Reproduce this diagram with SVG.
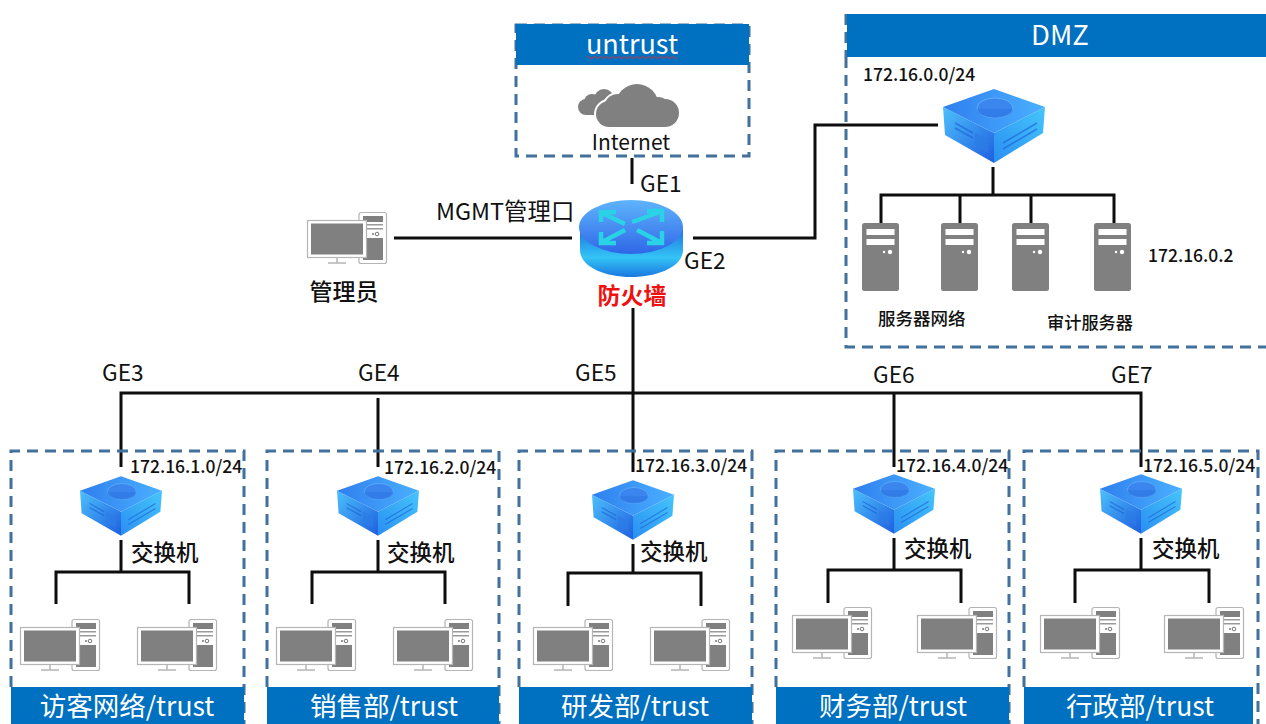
<svg xmlns="http://www.w3.org/2000/svg" width="1266" height="724" viewBox="0 0 1266 724">
<style>
text{font-family:"Noto Sans CJK SC","Noto Sans",sans-serif;fill:#111}
.w{fill:#fff;text-anchor:middle}
.ip{font-size:17.500px;font-weight:500}
.ge{font-size:22.700px}
.sw{font-size:22.500px;font-weight:500}
.zt{font-size:26.500px}
.bar{fill:#0070c0}
.zone{fill:none;stroke:#41719c;stroke-width:3;stroke-dasharray:11 7}
.ln{fill:none;stroke:#0d0d0d;stroke-width:3}
.arw{fill:none;stroke:#2ad2e6;stroke-width:4.500}
</style>
<defs>
<linearGradient id="swTop" x1="0" y1="0" x2="1" y2="0"><stop offset="0" stop-color="#2f7fee"/><stop offset="1" stop-color="#4ab0ff"/></linearGradient>
<linearGradient id="swL" x1="0" y1="0" x2="1" y2="1"><stop offset="0" stop-color="#4cc0fb"/><stop offset="1" stop-color="#1f5fe0"/></linearGradient>
<linearGradient id="swR" x1="0" y1="1" x2="1" y2="0"><stop offset="0" stop-color="#2a8ef2"/><stop offset="1" stop-color="#45c6fb"/></linearGradient>
<linearGradient id="fwTop" x1="0" y1="0" x2="0" y2="1"><stop offset="0" stop-color="#5fb4fb"/><stop offset="1" stop-color="#2f66e8"/></linearGradient>
<linearGradient id="fwBody" x1="0" y1="0" x2="0" y2="1"><stop offset="0" stop-color="#1b70df"/><stop offset=".6" stop-color="#34c4f6"/><stop offset="1" stop-color="#1a78e0"/></linearGradient>
<g id="cloudBig">
<circle cx="609" cy="114" r="13"/><circle cx="618" cy="108" r="14"/><circle cx="637" cy="105.500" r="21.500"/><circle cx="665" cy="113" r="14"/><circle cx="658" cy="110" r="13"/><rect x="609" y="108" width="56" height="19"/>
</g>
<symbol id="pc" viewBox="0 0 80 52" width="80" height="52" overflow="visible">
<rect x="52" y="0.500" width="27.500" height="51" rx="2" fill="#fff" stroke="#b5b5b5" stroke-width="1.200"/>
<rect x="56" y="4" width="20" height="6" fill="#808080"/>
<rect x="56" y="12" width="20" height="1.500" fill="#999"/><rect x="56" y="16" width="20" height="1.500" fill="#999"/>
<circle cx="70" cy="22" r="1.800" fill="none" stroke="#777"/><circle cx="66" cy="22" r="1" fill="#777"/>
<rect x="56" y="26" width="20" height="22" fill="#808080"/>
<rect x="0.500" y="8.500" width="59" height="37" fill="#fff" stroke="#b5b5b5" stroke-width="1.200"/>
<rect x="4" y="11.500" width="52" height="31" fill="#808080"/>
<path d="M30 46v5M21 51h18" stroke="#b5b5b5" stroke-width="1.500" fill="none"/>
</symbol>
<symbol id="sw" viewBox="0 0 102 74" overflow="visible">
<path d="M0 18L51 44V74L2 46Z" fill="url(#swL)"/>
<path d="M51 74V44L102 18L100 44Z" fill="url(#swR)"/>
<path d="M51 0L102 18L51 44L0 18Z" fill="url(#swTop)"/>
<ellipse cx="52" cy="19" rx="18" ry="10" fill="#3a86ee" stroke="#67b6fb" stroke-width=".8"/>
<path d="M34 20a18 9 0 0 0 36 0" fill="#2a72e2" fill-opacity=".5"/>
<g stroke="#1d62d6" stroke-width="1.500" fill="none" opacity=".65">
<path d="M12 34l18 10M12 39l18 10M60 54l34-20M60 60l34-20"/>
</g>
<path d="M32 44l13 7v13l-13-7z" fill="#2c7ce6" opacity=".7"/>
</symbol>
<symbol id="srv" viewBox="0 0 37 68" overflow="visible">
<rect width="37" height="68" rx="2.500" fill="#808080"/>
<rect x="4.500" y="6" width="28" height="6" fill="#fff"/>
<rect x="4.500" y="16" width="28" height="6" fill="#fff"/>
<circle cx="28" cy="29" r="2.200" fill="#fff"/><circle cx="22" cy="29" r="1.200" fill="#fff"/>
</symbol>
</defs>

<g id="zone-untrust">
<rect class="zone" x="516" y="25" width="233" height="131"/>
<rect class="bar" x="516" y="24" width="233" height="41"/>
<text class="w" x="632" y="54" font-size="27">untrust</text>
<path d="M587 57.500q1.500-2 3 0t3 0t3 0t3 0t3 0t3 0t3 0t3 0t3 0t3 0t3 0t3 0t3 0t3 0t3 0t3 0t3 0t3 0t3 0t3 0t3 0t3 0t3 0t3 0t3 0t3 0t3 0t3 0t3 0t3 0" fill="none" stroke="#e03030" stroke-width="1"/>
</g>
<g id="node-internet">
<g fill="#808080"><circle cx="586" cy="107" r="8"/><circle cx="592" cy="102" r="8"/><circle cx="604" cy="99" r="10"/><rect x="586" y="102" width="22" height="13"/></g>
<use href="#cloudBig" fill="#fff" stroke="#fff" stroke-width="4"/>
<use href="#cloudBig" fill="#808080"/>
<text x="631" y="150" font-size="21" text-anchor="middle">Internet</text>
</g>

<g id="zone-dmz">
<path class="zone" d="M846 57V347H1266"/>
<path class="zone" d="M846 14V57"/>
<rect class="bar" x="847" y="14" width="419" height="43"/>
<text class="w" x="1060" y="45" font-size="27.500">DMZ</text>
<text class="ip" x="863" y="81">172.16.0.0/24</text>
<text class="ip" x="1148" y="262">172.16.0.2</text>
<text x="878" y="325" font-size="17.500" font-weight="500">服务器网络</text>
<text x="1047" y="329" font-size="17.200" font-weight="500">审计服务器</text>
</g>

<g id="connectors">
<path class="ln" d="M632 158V184M394 238H572M693 238H815V125H938"/>
<path class="ln" d="M993 167V195M881 223V195H1114V223M960 195V223M1031 195V223"/>
<path class="ln" d="M633 308V393M121 467V393H1141V467M378 398V467M633 393V472M894 393V467"/>
<path class="ln" d="M121 540V572M56 604V572H189V604"/>
<path class="ln" d="M378 540V572M312 604V572H445V604"/>
<path class="ln" d="M633 544V573M568 606V573H701V606"/>
<path class="ln" d="M894 538V570M828 603V570H961V603"/>
<path class="ln" d="M1141 538V570M1075 603V570H1209V603"/>
</g>

<g id="node-firewall">
<path d="M580 228V250C580 266 603 277 631 277S683 266 683 250V228Z" fill="url(#fwBody)"/>
<ellipse cx="631" cy="227" rx="52" ry="27" fill="url(#fwTop)"/>
<path class="arw" d="M625 224L602 213M616 212H601V222M625 230L602 242M601 232V243H616M632 222L660 212M647 211H662V222M637 230L660 242M662 231V243H647"/>
<text x="632" y="304" font-size="23" font-weight="700" text-anchor="middle" style="fill:#f01010">防火墙</text>
</g>
<g id="node-admin">
<use href="#pc" x="307" y="212" width="80" height="52"/>
<text x="344" y="300" font-size="23" font-weight="500" text-anchor="middle">管理员</text>
</g>
<g id="node-dmz-switch"><use href="#sw" x="943" y="89" width="102" height="74"/></g>
<g id="node-servers">
<use href="#srv" x="862" y="223" width="37" height="68"/>
<use href="#srv" x="941" y="223" width="37" height="68"/>
<use href="#srv" x="1012" y="223" width="37" height="68"/>
<use href="#srv" x="1094" y="223" width="37" height="68"/>
</g>

<g id="ge-labels">
<text class="ge" x="640" y="192">GE1</text>
<text class="ge" x="684" y="269">GE2</text>
<text class="ge" x="102" y="381">GE3</text>
<text class="ge" x="358" y="381">GE4</text>
<text class="ge" x="575" y="381">GE5</text>
<text class="ge" x="873" y="383">GE6</text>
<text class="ge" x="1111" y="383">GE7</text>
<text x="436" y="220" font-size="23.400">MGMT管理口</text>
</g>

<g id="zone-guest">
<path class="zone" d="M11 687V451H244V724"/>
<rect class="bar" x="11" y="687" width="233" height="37"/>
<text class="w zt" x="127" y="716">访客网络/trust</text>
<text class="ip" x="130" y="473">172.16.1.0/24</text>
<use href="#sw" x="80" y="476" width="82" height="60"/>
<text class="sw" x="131" y="561">交换机</text>
<use href="#pc" x="20" y="619" width="80" height="52"/><use href="#pc" x="137" y="619" width="80" height="52"/>
</g>
<g id="zone-sales">
<path class="zone" d="M267 687V451H499V724"/>
<rect class="bar" x="267" y="687" width="232" height="37"/>
<text class="w zt" x="384" y="716">销售部/trust</text>
<text class="ip" x="384" y="474">172.16.2.0/24</text>
<use href="#sw" x="337" y="476" width="82" height="60"/>
<text class="sw" x="387" y="561">交换机</text>
<use href="#pc" x="276" y="619" width="80" height="52"/><use href="#pc" x="393" y="619" width="80" height="52"/>
</g>
<g id="zone-rd">
<path class="zone" d="M519 687V451H752V724"/>
<rect class="bar" x="519" y="687" width="233" height="37"/>
<text class="w zt" x="635" y="716">研发部/trust</text>
<text class="ip" x="635" y="472">172.16.3.0/24</text>
<use href="#sw" x="592" y="480" width="82" height="60"/>
<text class="sw" x="640" y="560">交换机</text>
<use href="#pc" x="533" y="619" width="80" height="52"/><use href="#pc" x="650" y="619" width="80" height="52"/>
</g>
<g id="zone-finance">
<path class="zone" d="M776 687V451H1009V724"/>
<rect class="bar" x="776" y="687" width="233" height="37"/>
<text class="w zt" x="893" y="716">财务部/trust</text>
<text class="ip" x="896" y="472">172.16.4.0/24</text>
<use href="#sw" x="853" y="474" width="82" height="60"/>
<text class="sw" x="904" y="557">交换机</text>
<use href="#pc" x="792" y="607" width="80" height="52"/><use href="#pc" x="917" y="607" width="80" height="52"/>
</g>
<g id="zone-admin">
<path class="zone" d="M1024 687V451H1258V724"/>
<rect class="bar" x="1024" y="687" width="229" height="37"/>
<text class="w zt" x="1140" y="716">行政部/trust</text>
<text class="ip" x="1143" y="472">172.16.5.0/24</text>
<use href="#sw" x="1100" y="474" width="82" height="60"/>
<text class="sw" x="1152" y="557">交换机</text>
<use href="#pc" x="1040" y="607" width="80" height="52"/><use href="#pc" x="1164" y="607" width="80" height="52"/>
</g>
</svg>
